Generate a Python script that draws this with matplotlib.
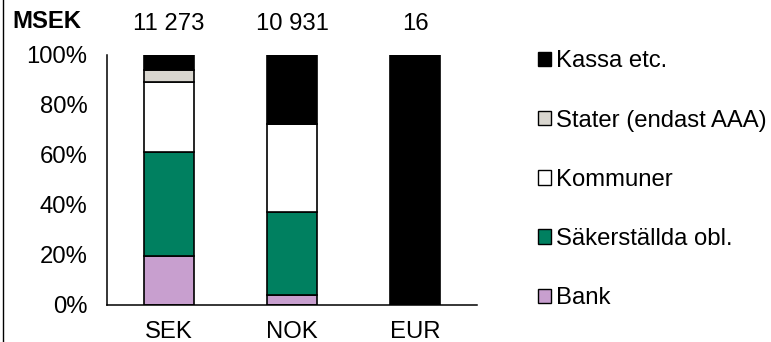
import numpy as np
import matplotlib
matplotlib.use('Agg')
import matplotlib.pyplot as plt
from matplotlib.patches import Patch
from matplotlib.lines import Line2D
from matplotlib.transforms import blended_transform_factory

plt.rcParams['font.family'] = ['Liberation Sans', 'DejaVu Sans']

# Andelar per valuta (%), staplade nerifrån och upp
currencies = ['SEK', 'NOK', 'EUR']
totals = ['11 273', '10 931', '16']
series = ['Bank', 'Säkerställda obl.', 'Kommuner', 'Stater (endast AAA)', 'Kassa etc.']
bank = [19.6, 3.9, 0.0]
sakerstallda = [41.5, 33.2, 0.0]
kommuner = [28.0, 35.3, 0.0]
stater = [5.0, 0.0, 0.0]
kassa = [5.9, 27.6, 100.0]
colors = ['#c89fcf', '#008060', '#ffffff', '#d9d6cf', '#000000']

values = [bank, sakerstallda, kommuner, stater, kassa]
fs = 17.2

fig = plt.figure(figsize=(7.71, 3.42), dpi=100)
ax = fig.add_axes([0.1388, 0.1082, 0.4799, 0.7310])

x = np.arange(len(currencies))
bottom = np.zeros(len(currencies))
for name, vals, col in zip(series, values, colors):
    vals = np.array(vals)
    ax.bar(x, vals, width=0.405, bottom=bottom, color=col,
           edgecolor='black', linewidth=1.2, label=name)
    bottom += vals

ax.set_xlim(-0.5, 2.5)
ax.set_ylim(0, 100)
ax.set_yticks([0, 20, 40, 60, 80, 100])
ax.set_yticklabels([f'{v}%' for v in range(0, 101, 20)])
ax.set_xticks(x)
ax.set_xticklabels(currencies)
ax.tick_params(axis='both', length=0, labelsize=fs)
ax.tick_params(axis='y', pad=14)
ax.tick_params(axis='x', pad=11.5)
for s in ['top', 'right']:
    ax.spines[s].set_visible(False)
for s in ['left', 'bottom']:
    ax.spines[s].set_linewidth(1.1)

# Totalbelopp ovanför staplarna
trans = blended_transform_factory(ax.transData, fig.transFigure)
for xi, t in zip(x, totals):
    ax.text(xi, 1 - 24 / 342, t, transform=trans, ha='center', va='center', fontsize=fs)
fig.text(12 / 771, 1 - 21 / 342, 'MSEK', ha='left', va='center',
         fontsize=fs, fontweight='bold')

handles = [Patch(facecolor=c, edgecolor='black', linewidth=1.0, label=n)
           for n, c in zip(series, colors)][::-1]
fig.legend(handles=handles, loc='upper left', bbox_to_anchor=(0.698, 0.853),
           frameon=False, fontsize=fs, handlelength=0.55, handleheight=0.55,
           handletextpad=0.2, labelspacing=1.56, borderpad=0, borderaxespad=0)

fig.add_artist(Line2D([0.0035, 0.0035], [0, 1], color='black', linewidth=1.0))

fig.savefig('out.png', dpi=100)
